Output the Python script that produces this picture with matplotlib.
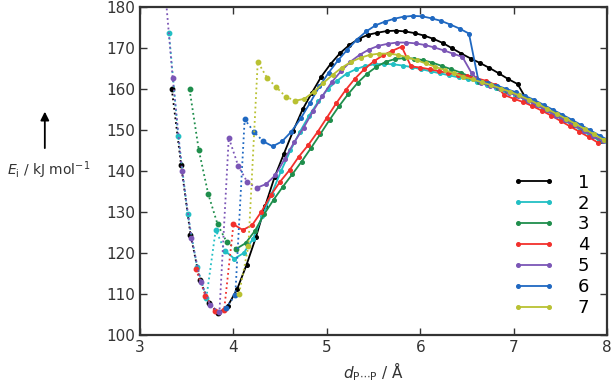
import numpy as np
import matplotlib
matplotlib.use("Agg")
import matplotlib.pyplot as plt

# energy scans, points every 0.1 A starting at x0
x0_1 = 3.34
e_1 = [160.0, 141.4, 124.5, 113.5, 107.8, 105.3, 107.1, 111.2, 117.1, 123.8,
       131.5, 138.5, 144.2, 149.8, 155.0, 159.1, 163.0, 166.1, 168.7, 170.7,
       172.2, 173.2, 173.7, 174.1, 174.2, 174.0, 173.6, 173.0, 172.2, 171.2,
       169.9, 168.6, 167.4, 166.3, 165.1, 163.8, 162.4, 161.2, 157.3, 156.2,
       155.0, 153.8, 152.5, 151.2, 150.0, 148.6, 147.2]
x0_2 = 3.31
e_2 = [173.6, 148.5, 129.5, 116.7, 109.0, 125.6, 120.5, 118.6, 120.0, 123.5,
       129.0, 134.5, 140.0, 145.0, 149.5, 153.5, 157.0, 160.0, 162.0, 163.7,
       164.8, 165.6, 166.0, 166.1, 166.0, 165.7, 165.3, 164.8, 164.3, 163.8,
       163.3, 162.8, 162.3, 161.7, 161.0, 160.2, 159.4, 158.6, 157.6, 156.5,
       155.2, 153.9, 152.7, 151.4, 150.1, 148.8, 147.5, 146.6]
x0_3 = 3.53
e_3 = [159.9, 145.0, 134.4, 127.0, 122.6, 121.0, 122.4, 125.4, 129.5, 133.0,
       136.2, 139.2, 142.3, 145.6, 149.0, 152.5, 155.8, 158.8, 161.5, 163.7,
       165.4, 166.6, 167.3, 167.5, 167.4, 167.0, 166.4, 165.6, 164.8, 164.0,
       163.0, 161.8, 161.1, 160.3, 159.5, 158.6, 157.5, 156.4, 155.2, 153.9,
       152.6, 151.4, 150.1, 148.8, 147.4]
x0_4 = 3.60
e_4 = [116.0, 109.6, 105.9, 106.0, 127.0, 125.6, 126.8, 130.1, 134.1, 137.4,
       140.2, 143.5, 146.3, 149.5, 153.0, 156.5, 159.7, 162.5, 164.8, 166.7,
       168.2, 169.3, 170.3, 165.5, 165.2, 164.8, 164.3, 163.9, 163.5, 163.1,
       162.6, 162.0, 161.0, 158.5, 157.6, 156.8, 155.8, 154.7, 153.5, 152.2,
       150.9, 149.6, 148.3, 146.9]
x0_5 = 3.25
e_5 = [189.0, 162.7, 140.0, 123.7, 113.0, 107.3, 105.5, 148.1, 141.3, 137.2,
       135.9, 136.8, 139.0, 143.0, 147.0, 150.5, 154.5, 158.2, 161.6, 164.3,
       166.6, 168.3, 169.6, 170.5, 171.0, 171.3, 171.3, 171.1, 170.7, 170.1,
       169.4, 168.6, 167.8, 163.8, 161.4, 160.7, 159.9, 159.1, 158.2, 157.1,
       156.0, 154.8, 153.5, 152.3, 151.1, 149.8, 148.5, 147.2]
x0_6 = 3.92
e_6 = [106.5, 109.8, 152.6, 149.5, 147.2, 146.0, 147.2, 149.6, 152.8, 156.6,
       160.6, 164.0, 167.0, 169.6, 172.0, 174.0, 175.5, 176.4, 177.1, 177.6,
       177.8, 177.7, 177.2, 176.6, 175.7, 174.7, 173.5, 162.2, 161.5, 160.8,
       160.0, 159.2, 158.3, 157.3, 156.1, 154.9, 153.7, 152.5, 151.2, 149.9,
       148.6, 147.4]
x0_7 = 4.06
e_7 = [110.0, 121.7, 166.6, 162.7, 160.4, 158.1, 157.1, 157.6, 159.3, 161.4,
       163.4, 165.2, 166.6, 167.6, 168.3, 168.6, 168.6, 168.3, 167.7, 167.0,
       166.2, 165.4, 164.6, 163.8, 163.0, 162.3, 161.6, 160.9, 160.1, 159.3,
       158.4, 157.4, 156.3, 155.1, 153.9, 152.7, 151.5, 150.2, 148.9, 147.6]

# number of leading points drawn dotted
n_dot = [6, 7, 6, 5, 11, 5, 7]

series = [(x0_1, e_1), (x0_2, e_2), (x0_3, e_3), (x0_4, e_4),
          (x0_5, e_5), (x0_6, e_6), (x0_7, e_7)]
labels = ["1", "2", "3", "4", "5", "6", "7"]
colors = ["black", "#22bfc4", "#1f8e4c", "#f2302c", "#7b56b6", "#1f68c1", "#b9c132"]

fig = plt.figure(figsize=(6.14, 3.82), dpi=100)
ax = fig.add_axes([0.228, 0.123, 0.761, 0.859])

for (x0, e), nd, c, lab in zip(series, n_dot, colors, labels):
    e = np.array(e)
    x = x0 + 0.1 * np.arange(len(e))
    ax.plot(x[:nd], e[:nd], ":", color=c, lw=1.3, marker="o", ms=3.2)
    ax.plot(x[nd - 1:], e[nd - 1:], "-", color=c, lw=1.3, marker="o", ms=2.6,
            label=lab)

ax.set_xlim(3, 8)
ax.set_ylim(100, 180)
ax.set_xticks([3, 4, 5, 6, 7, 8])
ax.set_yticks(range(100, 181, 10))
ax.tick_params(direction="in", top=True, right=True, labelsize=11,
               length=5, width=1, colors="#333333")
for s in ax.spines.values():
    s.set_linewidth(1.6)
    s.set_color("#333333")

ax.set_xlabel(r"$d_{\mathrm{P}\cdots\mathrm{P}}$ / Å", fontsize=11, color="#333333")
fig.text(0.079, 0.555, r"$E_\mathrm{i}$ / kJ mol$^{-1}$", fontsize=10,
         ha="center", va="center", color="#333333")
fig.add_artist(matplotlib.patches.FancyArrowPatch(
    (0.073, 0.605), (0.073, 0.715), transform=fig.transFigure,
    arrowstyle="-|>,head_length=5,head_width=2.5", color="black", lw=1.3))

leg = ax.legend(loc="lower right", frameon=False, fontsize=13,
                handlelength=2.3, labelspacing=0.16, handletextpad=1.3,
                borderaxespad=0.6, numpoints=2, markerfirst=True)

fig.savefig("out.png", dpi=100)
